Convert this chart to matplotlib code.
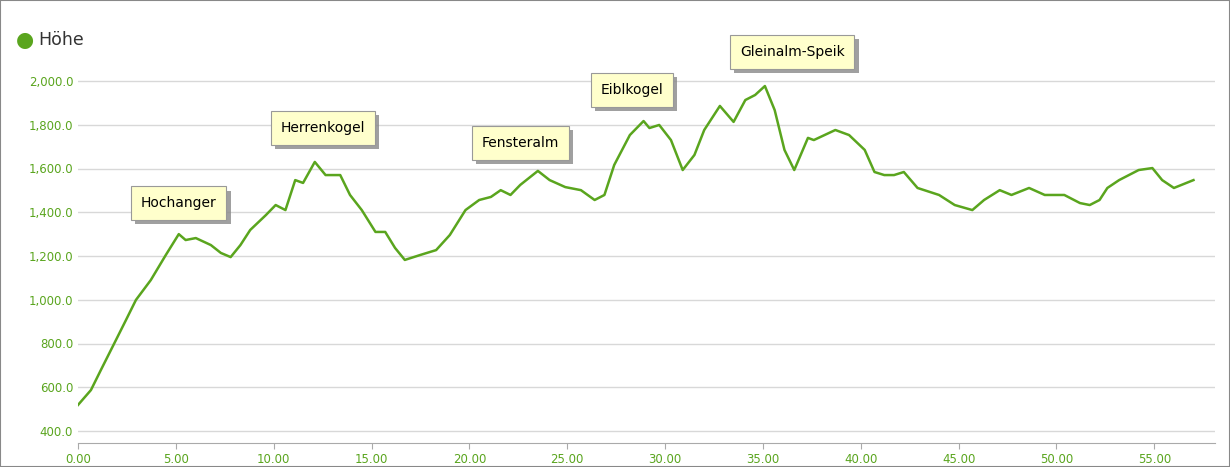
import matplotlib
matplotlib.use("Agg")
import matplotlib.pyplot as plt
import matplotlib.patheffects as pe
from matplotlib.ticker import FuncFormatter

dist = [0,0.66,1.17,1.94,2.45,2.96,3.72,4.49,5.15,5.5,6.02,6.79,7.3,7.8,8.3,8.8,9.6,10.1,10.6,11.1,11.5,12.1,12.65,13.4,13.9,14.5,15.2,15.7,16.2,16.7,17.5,18.3,19.0,19.8,20.5,21.1,21.6,22.1,22.6,23.5,24.1,24.9,25.7,26.4,26.9,27.4,28.2,28.9,29.2,29.7,30.3,30.9,31.5,32.0,32.8,33.5,34.1,34.6,35.1,35.6,36.1,36.6,37.3,37.6,38.7,39.4,40.2,40.7,41.2,41.7,42.2,42.9,44.0,44.8,45.7,46.3,47.1,47.7,48.6,49.4,50.4,51.2,51.7,52.2,52.6,53.2,53.7,54.2,54.9,55.4,56.0,57.0]
elev = [519,587,679,816,907,999,1090,1205,1300,1273,1282,1250,1214,1195,1250,1319,1387,1433,1410,1547,1534,1630,1570,1570,1479,1410,1310,1310,1237,1182,1205,1227,1296,1410,1456,1470,1501,1479,1525,1589,1547,1515,1501,1456,1479,1616,1753,1817,1785,1799,1730,1593,1662,1776,1886,1813,1913,1936,1977,1867,1685,1593,1740,1730,1776,1753,1685,1584,1570,1570,1584,1511,1479,1433,1410,1456,1501,1479,1511,1479,1479,1442,1433,1456,1511,1547,1570,1593,1602,1547,1511,1547]
peaks = ["Hochanger","Herrenkogel","Fensteralm","Eiblkogel","Gleinalm-Speik"]
peak_x = [5.15,12.5,22.6,28.3,36.5]
peak_y = [1442,1785,1717,1959,2133]

green = "#5aa51e"
fig = plt.figure(figsize=(12.3,4.67), dpi=100)
fig.patches.append(matplotlib.patches.Rectangle((0,0),1,1,transform=fig.transFigure,fill=False,ec="#888888",lw=1.5))
ax = fig.add_axes([78/1230, 1-443/467, (1215-78)/1230, (443-60)/467])
ax.plot(dist, elev, color=green, lw=1.8)
ax.set_xlim(0,58.1)
ax.set_ylim(400-(443-431)/0.21875, 400+(431-60)/0.21875)
ax.set_yticks(range(400,2001,200))
ax.set_xticks(range(0,56,5))
ax.yaxis.set_major_formatter(FuncFormatter(lambda v,p: f"{v:,.1f}"))
ax.xaxis.set_major_formatter(FuncFormatter(lambda v,p: f"{v:.2f}"))
ax.grid(axis="y", color="#d8d8d8", lw=1)
ax.set_axisbelow(True)
for s in ["top","right","left"]:
    ax.spines[s].set_visible(False)
ax.spines["bottom"].set_color("#aaaaaa")
ax.tick_params(axis="y", length=0, labelsize=8.5, labelcolor=green)
ax.tick_params(axis="x", length=4, color="#aaaaaa", labelsize=8.5, labelcolor=green)
for n,x,y in zip(peaks,peak_x,peak_y):
    t = ax.text(x,y,n,ha="center",va="center",fontsize=10,color="black",
            bbox=dict(boxstyle="square,pad=0.7",fc="#ffffcc",ec="#999999",lw=0.8))
    t.get_bbox_patch().set_path_effects([pe.SimplePatchShadow(offset=(3,-3),shadow_rgbFace="#888888",alpha=0.8), pe.Normal()])
fig.text(16/1230,1-40/467,"●",color=green,fontsize=15,va="center")
fig.text(38/1230,1-40/467,"Höhe",color="#333333",fontsize=12.5,va="center")
fig.savefig("out.png")
